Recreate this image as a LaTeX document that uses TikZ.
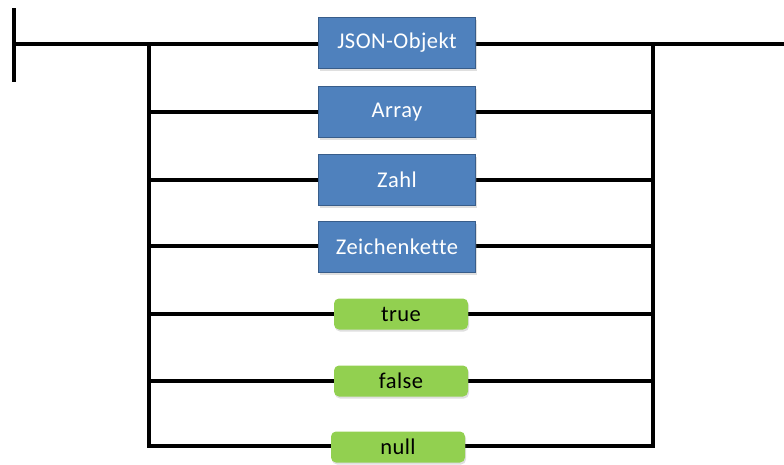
\documentclass[tikz,border=0pt]{standalone}
\usepackage{fontspec}
\setmainfont[Ligatures=NoCommon,LetterSpace=2]{Carlito}
\usetikzlibrary{shadows}
\definecolor{bluefill}{HTML}{4F81BD}
\definecolor{blueedge}{HTML}{385D8A}
\definecolor{greenfill}{HTML}{92D050}
\begin{document}
\begin{tikzpicture}[x=1pt,y=-1pt,
  rail/.style={line width=4pt,black},
  bluebox/.style={draw=blueedge,line width=1.8pt,fill=bluefill,minimum width=157pt,minimum height=51pt,text=white,font=\fontsize{22.5}{27}\selectfont,inner sep=0pt,drop shadow={shadow xshift=1pt,shadow yshift=-2pt,opacity=0.25}},
  greenbox/.style={draw=none,fill=greenfill,rounded corners=5pt,minimum width=134pt,minimum height=31pt,text=black,font=\fontsize{22.5}{27}\selectfont,inner sep=0pt,drop shadow={shadow xshift=1pt,shadow yshift=-2pt,opacity=0.25}}]
\useasboundingbox (0,0) rectangle (784,464);
% coordinates
\coordinate (bartop) at (14,8);
\coordinate (barbot) at (14,82);
\coordinate (start) at (14,44);
\coordinate (end) at (784,44);
\coordinate (ltop) at (149,44);
\coordinate (rtop) at (653,44);
\coordinate (l1) at (149,112);
\coordinate (r1) at (653,112);
\coordinate (l2) at (149,180);
\coordinate (r2) at (653,180);
\coordinate (l3) at (149,246);
\coordinate (r3) at (653,246);
\coordinate (l4) at (149,314);
\coordinate (r4) at (653,314);
\coordinate (l5) at (149,381);
\coordinate (r5) at (653,381);
\coordinate (l6) at (149,446);
\coordinate (r6) at (653,446);
% rails
\draw[rail] (start) -- (end);
\draw[rail] (bartop) -- (barbot);
\draw[rail] (ltop) -- (l6);
\draw[rail] (rtop) -- (r6);
\draw[rail] (l1) -- (r1);
\draw[rail] (l2) -- (r2);
\draw[rail] (l3) -- (r3);
\draw[rail] (l4) -- (r4);
\draw[rail] (l5) -- (r5);
\draw[rail,line cap=butt] ([xshift=-2pt]l6) -- ([xshift=2pt]r6);
% boxes
\node[bluebox] (obj) at (397,43) {JSON-Objekt};
\node[bluebox] (arr) at (397,112) {Array};
\node[bluebox] (zahl) at (397,180) {Zahl};
\node[bluebox] (str) at (397,247) {Zeichenkette};
\node[greenbox] (true) at (401,314) {true};
\node[greenbox] (false) at (401,381) {false};
\node[greenbox] (null) at (398,447) {null};
\end{tikzpicture}
\end{document}
